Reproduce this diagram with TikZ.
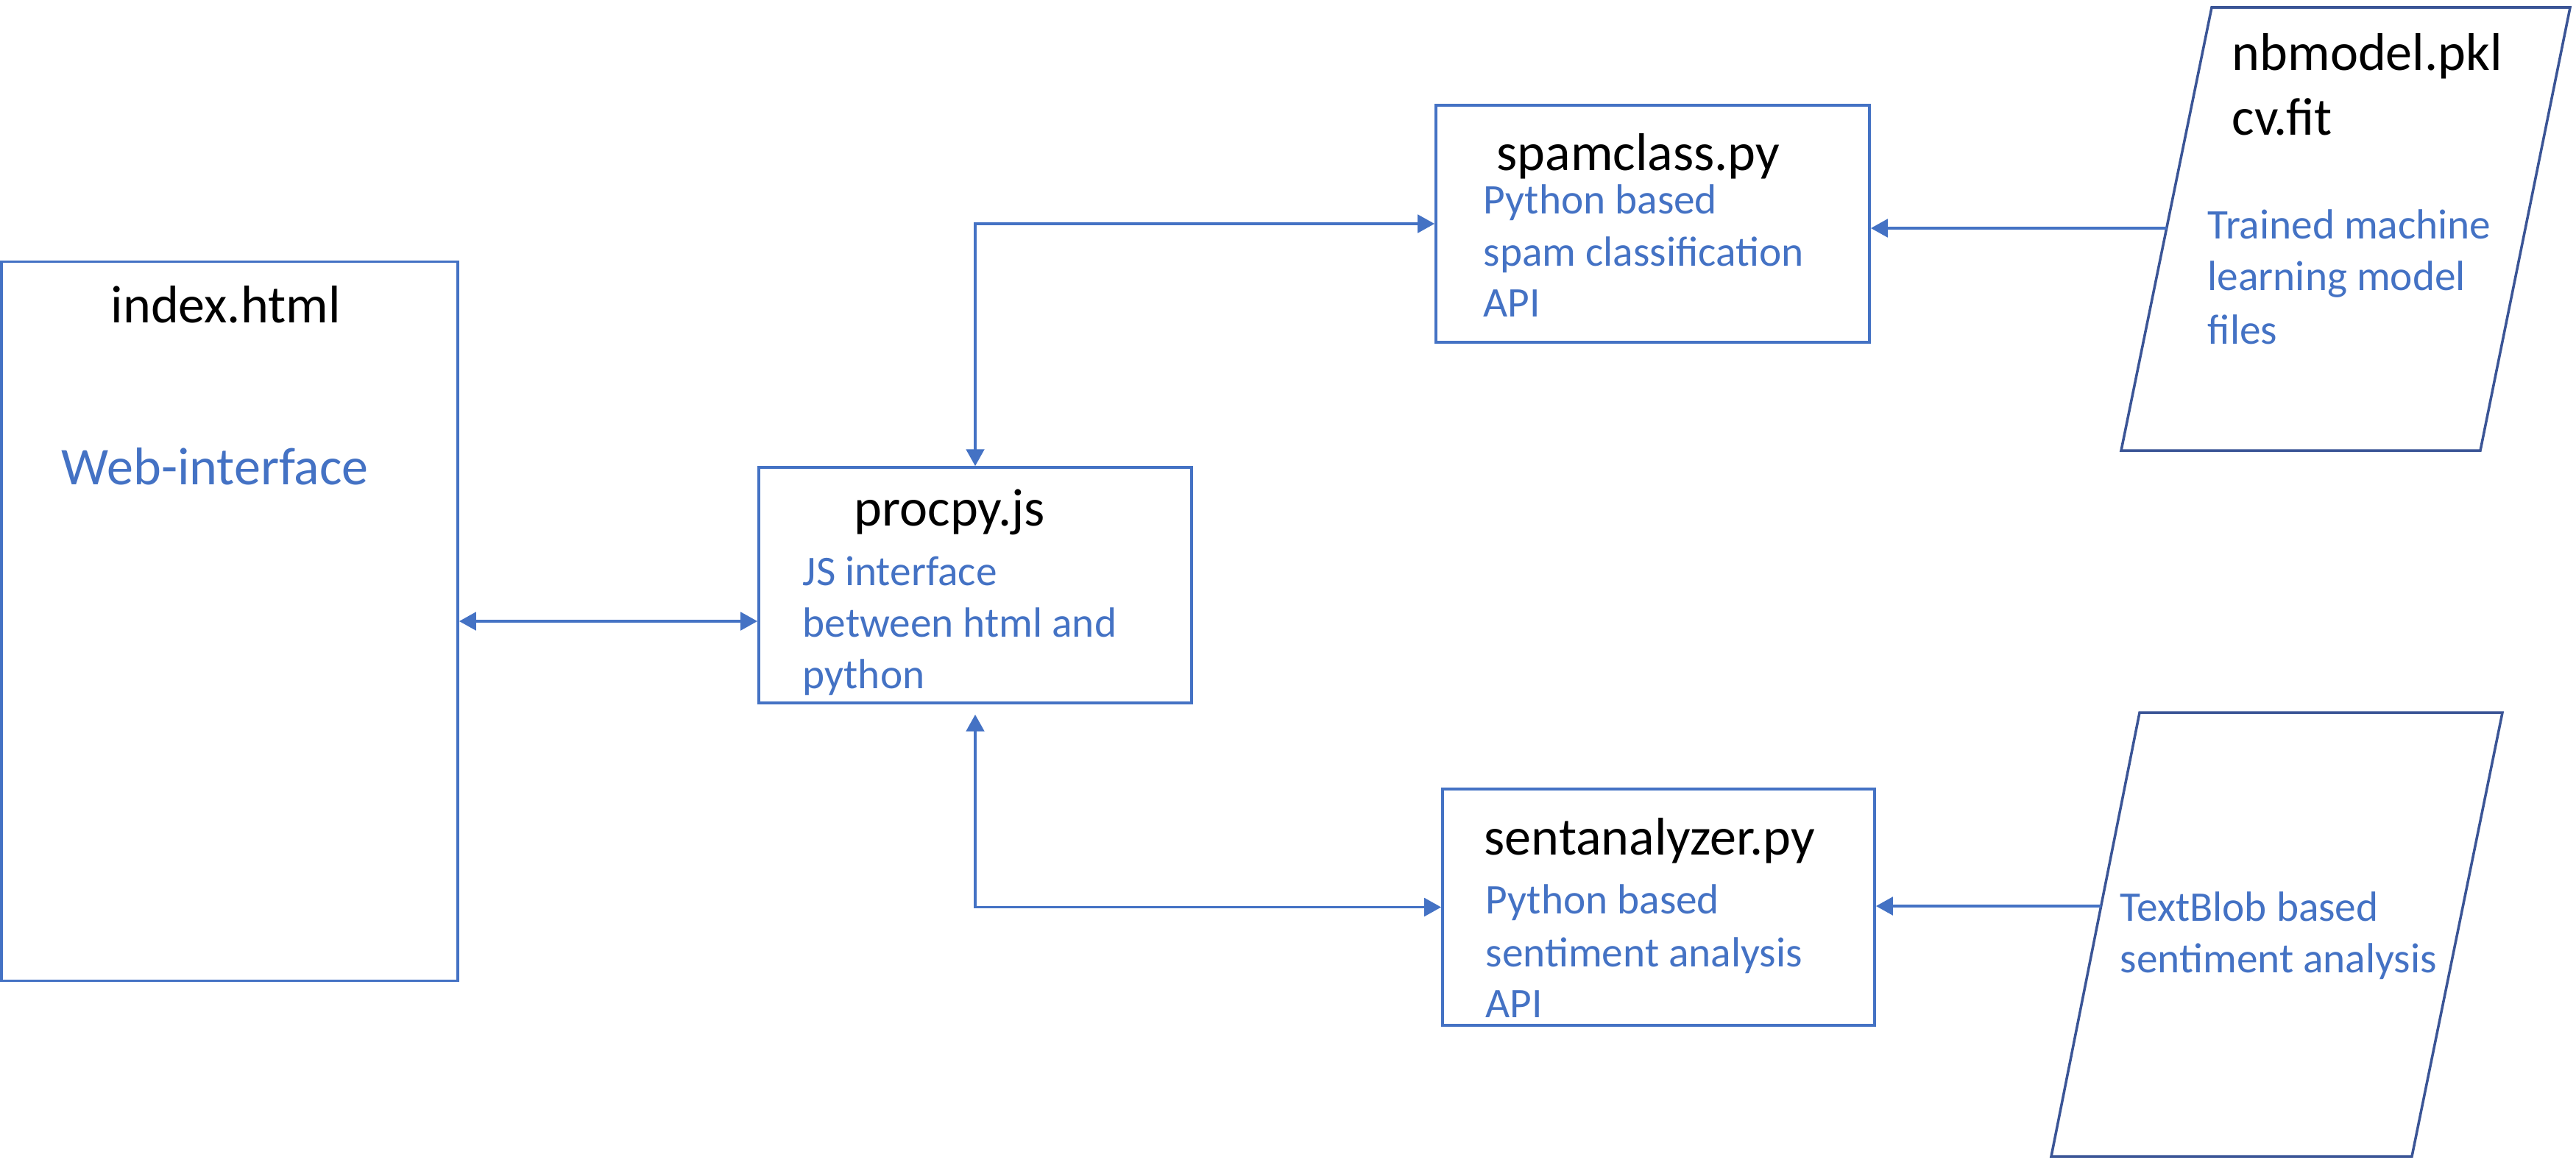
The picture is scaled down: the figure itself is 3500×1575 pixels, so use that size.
\documentclass[tikz,border=0pt]{standalone}
\usepackage{fontspec}
\setmainfont{Carlito}
\usetikzlibrary{arrows.meta,calc}
\definecolor{oblue}{RGB}{68,114,196}
\definecolor{pblue}{RGB}{59,85,150}
\tikzset{
  box/.style={draw=oblue,line width=1pt,rectangle,inner sep=0pt},
  title/.style={anchor=base west,inner sep=0pt,font=\fontsize{20.5}{25}\selectfont,text=black},
  desc/.style={anchor=base west,inner sep=0pt,font=\fontsize{16.3}{20}\selectfont,text=oblue},
  conn/.style={draw=oblue,line width=0.9pt,-{Triangle[length=6.5pt,width=7pt]}},
  bconn/.style={draw=oblue,line width=0.9pt,{Triangle[length=6.5pt,width=7pt]}-{Triangle[length=6.5pt,width=7pt]}},
  para/.style={draw=pblue,line width=1pt,line join=miter}
}
\begin{document}
\begin{tikzpicture}[x=0.01cm,y=-0.01cm]
\useasboundingbox (0,0) rectangle (3500,1575);
% boxes
\node[box,minimum width=6.20cm,minimum height=9.76cm] (idx) at (312,844) {};
\node[box,minimum width=5.88cm,minimum height=3.20cm] (proc) at (1325,795) {};
\node[box,minimum width=5.89cm,minimum height=3.22cm] (spam) at (2245.5,304) {};
\node[box,minimum width=5.87cm,minimum height=3.21cm] (sent) at (2253.5,1232.5) {};
% parallelograms
\coordinate (p1a) at (3005,10);
\coordinate (p1b) at (3492,10);
\coordinate (p1c) at (3370,612);
\coordinate (p1d) at (2882,612);
\draw[para] (p1a) -- (p1b) -- (p1c) -- (p1d) -- cycle;
\coordinate (p2a) at (2907,968);
\coordinate (p2b) at (3400,968);
\coordinate (p2c) at (3277,1571);
\coordinate (p2d) at (2787,1571);
\draw[para] (p2a) -- (p2b) -- (p2c) -- (p2d) -- cycle;
\coordinate (p1in) at (2944,310);
\coordinate (p2in) at (2855,1231);
% texts
\node[title] (tidx) at (150,438) {index.html};
\node[title,text=oblue] (tweb) at (83,658) {Web-interface};
\node[title] (tproc) at (1160,714) {procpy.js};
\node[desc] (dproc1) at (1090,795) {JS interface};
\node[desc] (dproc2) at (1090,865) {between html and};
\node[desc] (dproc3) at (1090,935) {python};
\node[title] (tspam) at (2033,231) {spamclass.py};
\node[desc] (dspam1) at (2015,290) {Python based};
\node[desc] (dspam2) at (2015,361) {spam classification};
\node[desc] (dspam3) at (2015,430) {API};
\node[title] (tsent) at (2016,1161) {sentanalyzer.py};
\node[desc] (dsent1) at (2018,1241) {Python based};
\node[desc] (dsent2) at (2018,1313) {sentiment analysis};
\node[desc] (dsent3) at (2018,1382) {API};
\node[title] (tnb1) at (3032,95) {nbmodel.pkl};
\node[title] (tnb2) at (3032,183) {cv.fit};
\node[desc] (dnb1) at (2999,324) {Trained machine};
\node[desc] (dnb2) at (2999,394) {learning model};
\node[desc] (dnb3) at (2999,467) {files};
\node[desc] (dtb1) at (2880,1251) {TextBlob based};
\node[desc] (dtb2) at (2880,1321) {sentiment analysis};
% connectors
\draw[bconn] (idx.east) -- (idx.east -| proc.west);
\draw[bconn] (proc.north) |- (spam.west);
\draw[bconn] ([yshift=-0.14cm]proc.south) |- (sent.west);
\draw[conn] (p1in) -- (p1in -| spam.east);
\draw[conn] (p2in) -- (p2in -| sent.east);
\end{tikzpicture}
\end{document}
